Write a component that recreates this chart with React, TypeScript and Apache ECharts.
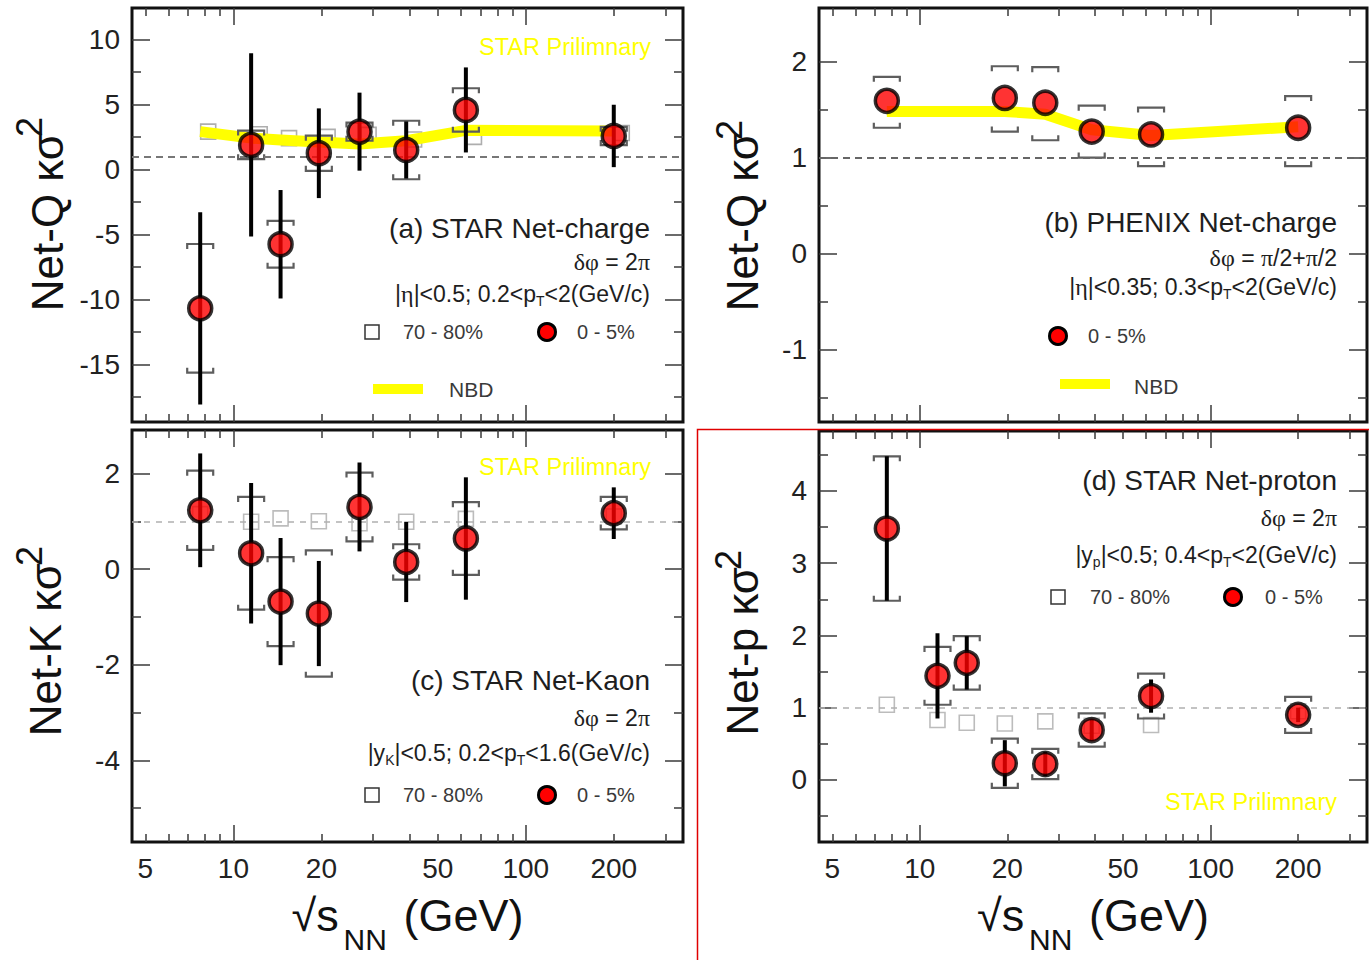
import React, { useEffect, useRef } from "react";
import * as echarts from "echarts";

// Collision energies, sqrt(s_NN) in GeV
const energies = [7.7, 11.5, 14.5, 19.6, 27, 39, 62.4, 200];
const energiesPeripheralQ = [8.2, 12.3, 15.5, 21, 29, 41.5, 66.5, 213];
const energiesPhenix = [7.7, 19.6, 27, 39, 62.4, 200];

// (a) STAR net-charge
const netQCentral = [-10.68, 1.89, -5.75, 1.25, 2.91, 1.5, 4.58, 2.58];
const netQStat = [7.4, 7.05, 4.17, 3.45, 3.0, 2.2, 3.27, 2.4];
const netQSys = [4.95, 1.1, 1.8, 1.35, 0.7, 2.25, 1.67, 0.7];
const netQPeripheral = [2.91, 2.71, 2.41, 2.51, 2.66, 2.31, 2.51, 2.81];
const netQNbd = [2.91, 2.41, 2.26, 2.11, 1.96, 2.21, 3.01, 2.96];

// (b) PHENIX net-charge
const phenixQ = [1.59, 1.62, 1.57, 1.27, 1.24, 1.31];
const phenixSysUp = [0.25, 0.33, 0.37, 0.27, 0.28, 0.33];
const phenixSysDown = [0.28, 0.35, 0.39, 0.27, 0.33, 0.4];
const phenixNbd = [1.48, 1.48, 1.45, 1.29, 1.23, 1.32];

// (c) STAR net-kaon
const netKCentral = [1.23, 0.33, -0.68, -0.93, 1.3, 0.15, 0.64, 1.17];
const netKStat = [1.19, 1.47, 1.33, 1.1, 0.93, 0.84, 1.28, 0.54];
const netKSys = [0.83, 1.18, 0.93, 1.32, 0.72, 0.37, 0.76, 0.34];
const netKPeripheral = [1.15, 0.99, 1.06, 1.0, 0.96, 0.99, 1.05, 1.1];

// (d) STAR net-proton
const netPCentral = [3.48, 1.44, 1.62, 0.23, 0.22, 0.69, 1.16, 0.9];
const netPStat = [1.0, 0.59, 0.37, 0.32, 0.17, 0.15, 0.23, 0.1];
const netPSys = [1.0, 0.4, 0.37, 0.34, 0.21, 0.23, 0.31, 0.25];
const netPPeripheral = [1.04, 0.83, 0.79, 0.78, 0.81, 0.75, 0.76, 0.95];

// Axis ticks
const xLabelTicks = [5, 10, 20, 50, 100, 200];
const xMajorTicks = [10, 100];
const xMinorTicks = [5, 6, 7, 8, 9, 20, 30, 40, 50, 60, 70, 80, 90, 200, 300];

const yMajorA = [-15, -10, -5, 0, 5, 10];
const yMinorA = [-17.5, -12.5, -7.5, -2.5, 2.5, 7.5];
const yMajorB = [-1, 0, 1, 2];
const yMinorB = [-1.5, -0.5, 0.5, 1.5];
const yMajorC = [-4, -2, 0, 2];
const yMinorC = [-5, -3, -1, 1];
const yMajorD = [0, 1, 2, 3, 4];
const yMinorD = [-0.5, 0.5, 1.5, 2.5, 3.5, 4.5];

const X_MIN = 4.5;
const X_MAX = 345;

const FONT = '"Liberation Sans", Arial, Helvetica, sans-serif';
const SERIF = '"Liberation Serif", "DejaVu Serif", serif';
const INK = "#1e1e1e";
const LEGEND_INK = "#3a3a3a";
const TICK_COLOR = "#3a3a3a";
const YELLOW = "#ffff00";
const SYS_COLOR = "#5e5e5e";

type PanelLayout = {
  grid: { left: number; top: number; width: number; height: number };
  yMin: number;
  yMax: number;
  yMajor: number[];
  yMinor: number[];
  xLabels: boolean;
};

const PANELS: PanelLayout[] = [
  { grid: { left: 132, top: 8, width: 551, height: 414 }, yMin: -19.42, yMax: 12.42, yMajor: yMajorA, yMinor: yMinorA, xLabels: false },
  { grid: { left: 819, top: 8, width: 548, height: 414 }, yMin: -1.752, yMax: 2.556, yMajor: yMajorB, yMinor: yMinorB, xLabels: false },
  { grid: { left: 132, top: 430, width: 551, height: 412 }, yMin: -5.71, yMax: 2.91, yMajor: yMajorC, yMinor: yMinorC, xLabels: true },
  { grid: { left: 819, top: 431, width: 548, height: 411 }, yMin: -0.86, yMax: 4.83, yMajor: yMajorD, yMinor: yMinorD, xLabels: true },
];

const tick = (values: number[], len: number) => ({
  show: true,
  inside: true,
  length: len,
  customValues: values,
  lineStyle: { color: TICK_COLOR, width: 1.5 },
});

function xAxesFor(g: number, showLabels: boolean) {
  const base = {
    type: "log",
    logBase: 10,
    gridIndex: g,
    min: X_MIN,
    max: X_MAX,
    axisLine: { show: false, onZero: false },
    splitLine: { show: false },
  };
  return [
    {
      ...base,
      position: "bottom",
      axisTick: tick(xMajorTicks, 17),
      axisLabel: { show: showLabels, customValues: xLabelTicks, fontSize: 28, color: "#222", margin: 12, fontFamily: FONT },
    },
    { ...base, position: "bottom", axisTick: tick(xMinorTicks, 8), axisLabel: { show: false } },
    { ...base, position: "top", axisTick: tick(xMajorTicks, 17), axisLabel: { show: false } },
    { ...base, position: "top", axisTick: tick(xMinorTicks, 8), axisLabel: { show: false } },
  ];
}

function yAxesFor(g: number, p: PanelLayout) {
  const base = {
    type: "value",
    gridIndex: g,
    min: p.yMin,
    max: p.yMax,
    axisLine: { show: false, onZero: false },
    splitLine: { show: false },
  };
  return [
    {
      ...base,
      position: "left",
      axisTick: tick(p.yMajor, 18),
      axisLabel: { show: true, customValues: p.yMajor, fontSize: 28, color: "#222", margin: 12, fontFamily: FONT },
    },
    { ...base, position: "left", axisTick: tick(p.yMinor, 9), axisLabel: { show: false } },
    { ...base, position: "right", axisTick: tick(p.yMajor, 18), axisLabel: { show: false } },
    { ...base, position: "right", axisTick: tick(p.yMinor, 9), axisLabel: { show: false } },
  ];
}

const pairs = (x: number[], y: number[]) => x.map((e, i) => [e, y[i]]);
const bands = (x: number[], c: number[], up: number[], down: number[]) =>
  x.map((e, i) => [e, c[i] - down[i], c[i] + up[i]]);

// Systematic uncertainty drawn as open brackets above and below the point
function renderSys(_params: any, api: any) {
  const x = api.value(0);
  const lo = api.coord([x, api.value(1)]);
  const hi = api.coord([x, api.value(2)]);
  const w = 13;
  const h = 5;
  const style = { stroke: SYS_COLOR, lineWidth: 2.2, fill: "none" };
  return {
    type: "group",
    children: [
      { type: "polyline", shape: { points: [[hi[0] - w, hi[1] + h], [hi[0] - w, hi[1]], [hi[0] + w, hi[1]], [hi[0] + w, hi[1] + h]] }, style },
      { type: "polyline", shape: { points: [[lo[0] - w, lo[1] - h], [lo[0] - w, lo[1]], [lo[0] + w, lo[1]], [lo[0] + w, lo[1] - h]] }, style },
    ],
  };
}

// Statistical uncertainty drawn as a thick vertical bar
function renderStat(_params: any, api: any) {
  const x = api.value(0);
  const lo = api.coord([x, api.value(1)]);
  const hi = api.coord([x, api.value(2)]);
  return {
    type: "line",
    shape: { x1: lo[0], y1: lo[1], x2: hi[0], y2: hi[1] },
    style: { stroke: "#000", lineWidth: 4 },
  };
}

const unityLine = (color: string, width: number, dash: number[]) => ({
  silent: true,
  symbol: ["none", "none"],
  label: { show: false },
  lineStyle: { type: dash, color, width },
  emphasis: { disabled: true },
  data: [{ yAxis: 1 }],
});

function panelSeries(
  g: number,
  opts: {
    central: number[][];
    stat?: number[][];
    sys: number[][];
    peripheral?: number[][];
    peripheralColor?: string;
    nbd?: number[][];
    unity: any;
  }
) {
  const axes = { xAxisIndex: g * 4, yAxisIndex: g * 4 };
  const out: any[] = [];
  let unityPlaced = false;
  if (opts.peripheral) {
    out.push({
      type: "scatter",
      ...axes,
      name: "70 - 80%",
      data: opts.peripheral,
      symbol: "rect",
      symbolSize: 15,
      itemStyle: { color: "rgba(255,255,255,0)", borderColor: opts.peripheralColor, borderWidth: 1.6 },
      z: 2,
      markLine: opts.unity,
    });
    unityPlaced = true;
  }
  if (opts.nbd) {
    out.push({
      type: "line",
      ...axes,
      name: "NBD",
      data: opts.nbd,
      showSymbol: false,
      symbol: "none",
      lineStyle: { color: YELLOW, width: 11, join: "round" },
      z: 3,
      markLine: unityPlaced ? undefined : opts.unity,
    });
  }
  out.push({
    type: "custom",
    ...axes,
    data: opts.sys,
    encode: { x: 0, y: [1, 2] },
    renderItem: renderSys,
    z: 4,
  });
  if (opts.stat) {
    out.push({
      type: "custom",
      ...axes,
      data: opts.stat,
      encode: { x: 0, y: [1, 2] },
      renderItem: renderStat,
      z: 5,
    });
  }
  out.push({
    type: "scatter",
    ...axes,
    name: "0 - 5%",
    data: opts.central,
    symbol: "circle",
    symbolSize: 23,
    itemStyle: { color: "#ff0000", borderColor: "#000", borderWidth: 3.5 },
    z: 6,
  });
  return out;
}

const txt = (x: number, y: number, text: string, size: number, align = "left", fill = INK, extra: any = {}) => ({
  type: "text",
  x,
  y,
  silent: true,
  style: { text, fontSize: size, fontFamily: FONT, fill, align, verticalAlign: "middle", ...extra },
});

const greek = (size: number, fill = INK) => ({
  g: { fontFamily: SERIF, fontSize: size, fill },
  s: { fontFamily: FONT, fontSize: Math.round(size * 0.6), fill, verticalAlign: "bottom", lineHeight: 12 },
});

const cutText = (x: number, y: number, text: string) =>
  txt(x, y, text, 23, "right", INK, { rich: greek(24), lineHeight: 28 });

const legendSquare = (cx: number, cy: number) => ({
  type: "rect",
  silent: true,
  shape: { x: cx - 7, y: cy - 7, width: 14, height: 14 },
  style: { fill: "none", stroke: "#333", lineWidth: 1.5 },
});

const legendCircle = (cx: number, cy: number) => ({
  type: "circle",
  silent: true,
  shape: { cx, cy, r: 8.5 },
  style: { fill: "#ff0000", stroke: "#000", lineWidth: 3 },
});

const legendBand = (x1: number, x2: number, y: number) => ({
  type: "line",
  silent: true,
  shape: { x1, y1: y, x2, y2: y },
  style: { stroke: YELLOW, lineWidth: 10 },
});

// y title: rotated text ending at yEnd, with a raised "2"
const yTitle = (x: number, yEnd: number, main: string, supX: number, supY: number) => [
  { ...txt(x, yEnd, main, 44, "right", "#111"), rotation: Math.PI / 2 },
  { ...txt(supX, supY, "2", 36, "left", "#111"), rotation: Math.PI / 2 },
];

// x title: √s_NN (GeV), centred at cx
const xTitle = (cx: number, y: number) => {
  const start = cx - 116;
  return [
    txt(start, y, "√s", 45, "left", "#111"),
    txt(start + 52, y + 24, "NN", 30, "left", "#111"),
    txt(start + 112, y, "(GeV)", 45, "left", "#111"),
  ];
};

function buildOption() {
  const grid: any[] = [];
  const xAxis: any[] = [];
  const yAxis: any[] = [];
  PANELS.forEach((p, g) => {
    grid.push({ ...p.grid, show: true, borderColor: "#111", borderWidth: 3, backgroundColor: "transparent" });
    xAxis.push(...xAxesFor(g, p.xLabels));
    yAxis.push(...yAxesFor(g, p));
  });

  const series = [
    ...panelSeries(0, {
      central: pairs(energies, netQCentral),
      stat: bands(energies, netQCentral, netQStat, netQStat),
      sys: bands(energies, netQCentral, netQSys, netQSys),
      peripheral: pairs(energiesPeripheralQ, netQPeripheral),
      peripheralColor: "#9a9a9a",
      nbd: pairs(energies, netQNbd),
      unity: unityLine("#777", 2.2, [7, 5]),
    }),
    ...panelSeries(1, {
      central: pairs(energiesPhenix, phenixQ),
      sys: bands(energiesPhenix, phenixQ, phenixSysUp, phenixSysDown),
      nbd: pairs(energiesPhenix, phenixNbd),
      unity: unityLine("#666", 2, [7, 5]),
    }),
    ...panelSeries(2, {
      central: pairs(energies, netKCentral),
      stat: bands(energies, netKCentral, netKStat, netKStat),
      sys: bands(energies, netKCentral, netKSys, netKSys),
      peripheral: pairs(energies, netKPeripheral),
      peripheralColor: "#ababab",
      unity: unityLine("#b0b0b0", 1.5, [6, 6]),
    }),
    ...panelSeries(3, {
      central: pairs(energies, netPCentral),
      stat: bands(energies, netPCentral, netPStat, netPStat),
      sys: bands(energies, netPCentral, netPSys, netPSys),
      peripheral: pairs(energies, netPPeripheral),
      peripheralColor: "#ababab",
      unity: unityLine("#b0b0b0", 1.5, [6, 6]),
    }),
  ];

  const elements: any[] = [
    // (a)
    txt(651, 47, "STAR Prilimnary", 23.5, "right", YELLOW),
    txt(650, 228, "(a) STAR Net-charge", 28, "right"),
    cutText(650, 262, "{g|δφ} = 2{g|π}"),
    cutText(650, 294, "|{g|η}|<0.5; 0.2<p{s|T}<2(GeV/c)"),
    legendSquare(372, 332),
    txt(403, 332, "70 - 80%", 20, "left", LEGEND_INK),
    legendCircle(547, 332),
    txt(577, 332, "0 - 5%", 20, "left", LEGEND_INK),
    legendBand(373, 423, 389),
    txt(449, 389, "NBD", 21, "left", LEGEND_INK),
    // (b)
    txt(1337, 222, "(b) PHENIX Net-charge", 28, "right"),
    cutText(1337, 258, "{g|δφ} = {g|π}/2+{g|π}/2"),
    cutText(1337, 287, "|{g|η}|<0.35; 0.3<p{s|T}<2(GeV/c)"),
    legendCircle(1058, 336),
    txt(1088, 336, "0 - 5%", 20, "left", LEGEND_INK),
    legendBand(1060, 1110, 384),
    txt(1134, 386, "NBD", 21, "left", LEGEND_INK),
    // (c)
    txt(651, 467, "STAR Prilimnary", 23.5, "right", YELLOW),
    txt(650, 680, "(c) STAR Net-Kaon", 28, "right"),
    cutText(650, 718, "{g|δφ} = 2{g|π}"),
    cutText(650, 753, "|y{s|K}|<0.5; 0.2<p{s|T}<1.6(GeV/c)"),
    legendSquare(372, 795),
    txt(403, 795, "70 - 80%", 20, "left", LEGEND_INK),
    legendCircle(547, 795),
    txt(577, 795, "0 - 5%", 20, "left", LEGEND_INK),
    // (d)
    txt(1337, 480, "(d) STAR Net-proton", 28, "right"),
    cutText(1337, 518, "{g|δφ} = 2{g|π}"),
    cutText(1337, 555, "|y{s|p}|<0.5; 0.4<p{s|T}<2(GeV/c)"),
    legendSquare(1058, 597),
    txt(1090, 597, "70 - 80%", 20, "left", LEGEND_INK),
    legendCircle(1233, 597),
    txt(1265, 597, "0 - 5%", 20, "left", LEGEND_INK),
    txt(1337, 802, "STAR Prilimnary", 23.5, "right", YELLOW),
    // axis titles
    ...yTitle(47, 133, "Net-Q κσ", 29, 137),
    ...yTitle(742, 133, "Net-Q κσ", 729, 140),
    ...yTitle(45, 563, "Net-K κσ", 29, 566),
    ...yTitle(742, 567, "Net-p κσ", 728, 570),
    ...xTitle(407.5, 915),
    ...xTitle(1093, 915),
    // highlight frame around panel (d)
    {
      type: "rect",
      silent: true,
      z: 200,
      shape: { x: 697.5, y: 429.5, width: 700, height: 560 },
      style: { fill: "none", stroke: "#e00000", lineWidth: 1.5 },
    },
  ];

  return {
    animation: false,
    backgroundColor: "#ffffff",
    textStyle: { fontFamily: FONT },
    grid,
    xAxis,
    yAxis,
    series,
    graphic: { elements },
  };
}

export default function App() {
  const ref = useRef<HTMLDivElement>(null);
  useEffect(() => {
    if (!ref.current) return;
    const chart = echarts.init(ref.current, null, { renderer: "svg" });
    chart.setOption(buildOption() as any);
    return () => chart.dispose();
  }, []);
  return (
    <div
      ref={ref}
      style={{ position: "absolute", left: 0, top: 0, width: 1369, height: 960, background: "#fff" }}
    />
  );
}
